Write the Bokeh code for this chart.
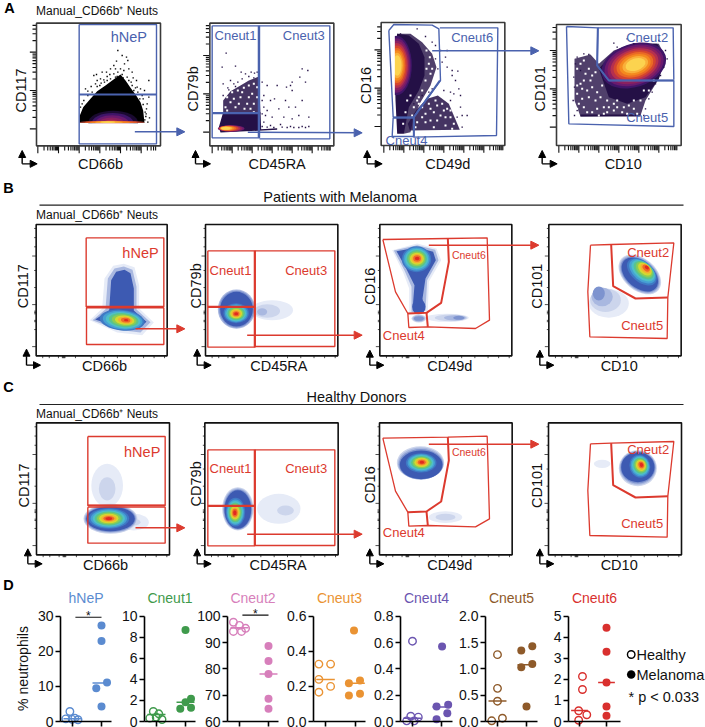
from bokeh.plotting import figure
from bokeh.layouts import row, column
from bokeh.models import (Range1d, Arrow, NormalHead, ColumnDataSource, LinearAxis, FixedTicker,
                          NumeralTickFormatter)
from bokeh.embed import file_html
from bokeh.resources import INLINE
from bokeh.core.properties import value
import math

FONT = "Liberation Sans"
BLUE = "#4a62ae"
RED = "#dc3a2e"

# ---------- panel D data ----------
SUBSETS = ["hNeP", "Cneut1", "Cneut2", "Cneut3", "Cneut4", "Cneut5", "Cneut6"]
SUBSET_COLORS = ["#5b8bd0", "#3f9a4c", "#d77fbb", "#ea9333", "#6b55b0", "#8e5a2a", "#d9302e"]
Y_MIN = [0, 0, 60, 0, 0, 0, 0]
Y_MAX = [30, 10, 100, 0.6, 0.8, 2.0, 5]
Y_TICKS = [[0, 10, 20, 30], [0, 2, 4, 6, 8, 10], [60, 70, 80, 90, 100], [0, .2, .4, .6],
           [0, .2, .4, .6, .8], [0, .5, 1, 1.5, 2], [0, 1, 2, 3, 4, 5]]
Y_FORMAT = ["0", "0", "0", "0.0", "0.0", "0.0", "0"]
HEALTHY_X = [[-.09, -.23, .08, -.01, .19], [-.11, .08, -.23, -.01, .19], [-.21, 0, .21, -.21, .07],
             [-.22, .17, -.22, .17, -.22], [0, -.06, .2, -.2, .06], [0, 0, 0, .17, -.2], [.11, .11, -.03, .27, -.03]]
HEALTHY = [[2.85, .76, .95, .6, .5], [.95, .73, .32, .41, .19], [97.7, 96.5, 95.4, 94.2, 94.2],
           [.327, .327, .24, .2, .167], [.61, .04, .033, .005, .005], [1.27, .63, .386, .063, .013],
           [2.14, 1.52, .51, .32, .06]]
MELANOMA_X = [[1, 1, 1.19, .82, 1], [1, 1.19, 1, .82, 1.19], [1, 1, 1, 1, 1], [.95, .78, 1.15, 1.15, .78],
              [1.02, .83, 1.23, 1.2, .83], [1.2, .82, 1.2, .82, 1], [1, 1, 1, 1, 1]]
MELANOMA = [[27.35, 22.9, 11.1, 9.5, 4.3], [8.7, 2.15, 1.83, 1.2, 1.3], [88.7, 83, 78, 68.6, 64.8],
            [.518, .218, .233, .158, .148], [.57, .114, .127, .063, .018], [1.43, 1.35, 1.09, 1.03, .285],
            [4.45, 3.31, 1.85, .71, .27]]
HEALTHY_MED = [.8, .66, 95.6, .24, .025, .39, .52]
MELANOMA_MED = [11, 1.83, 78, .218, .11, 1.08, 1.85]
SIG_LEVEL = {0: 29.7, 2: 100.4}

# layout of panel D in page pixels
SLOTS = [0, 118, 197, 282, 370, 455, 545, 705]
AXIS_X = [60, 144, 227, 313, 400, 485, 568]
TICK0 = [72, 156, 239, 325, 412, 497, 579]
TICK1 = [101, 185, 268, 355, 441, 526, 606]
AXIS_END = [111, 195, 278, 365, 452, 537, 620]
TOP_H = 576
PAGE_H = 727
PX_MAX, PX_ZERO = 615.7, 721.0

# ---------- flow panels (coordinates, 3x-crop units) ----------
ORIGIN = {"a": (0, 0), "b": (350, 0), "c": (0, 178), "d": (350, 178), "e": (0, 375), "f": (350, 375)}

FRAMES = [("a", 108, 68, 480, 436), ("a", 628, 68, 1000, 436), ("b", 92, 66, 463, 435), ("b", 618, 72, 992, 435),
          ("c", 107, 138, 500, 532), ("c", 615, 138, 1012, 532), ("d", 88, 138, 484, 532), ("d", 595, 138, 992, 532),
          ("e", 108, 142, 507, 538), ("e", 613, 142, 1013, 538), ("f", 87, 142, 485, 538), ("f", 594, 142, 993, 538)]
AXIS_TEXT = [("a", "CD117", 60, 270, 1), ("a", "CD66b", 300, 490, 0), ("a", "CD79b", 578, 265, 1), ("a", "CD45RA", 830, 490, 0),
             ("b", "CD16", 45, 255, 1), ("b", "CD49d", 292, 490, 0), ("b", "CD101", 568, 265, 1), ("b", "CD10", 818, 490, 0),
             ("c", "CD117", 68, 323, 1), ("c", "CD66b", 312, 563, 0), ("c", "CD79b", 585, 322, 1), ("c", "CD45RA", 835, 563, 0),
             ("d", "CD16", 57, 323, 1), ("d", "CD49d", 298, 563, 0), ("d", "CD101", 560, 323, 1), ("d", "CD10", 806, 563, 0),
             ("e", "CD117", 70, 330, 1), ("e", "CD66b", 315, 567, 0), ("e", "CD79b", 585, 325, 1), ("e", "CD45RA", 833, 567, 0),
             ("f", "CD16", 57, 328, 1), ("f", "CD49d", 298, 567, 0), ("f", "CD101", 560, 330, 1), ("f", "CD10", 806, 567, 0)]
GATE_TEXT = [("a", "hNeP", 385, 108, 14.5, BLUE), ("a", "Cneut1", 705, 105, 13, BLUE), ("a", "Cneut3", 910, 105, 13, BLUE),
             ("b", "Cneut6", 365, 112, 13, BLUE), ("b", "Cneut4", 168, 420, 13, BLUE), ("b", "Cneut2", 890, 112, 13, BLUE),
             ("b", "Cneut5", 890, 352, 13, BLUE),
             ("c", "hNeP", 420, 222, 14.5, RED), ("c", "Cneut1", 690, 275, 13, RED), ("c", "Cneut3", 917, 275, 13, RED),
             ("d", "Cneut6", 355, 228, 10.5, RED), ("d", "Cneut4", 160, 472, 13, RED), ("d", "Cneut2", 893, 222, 13, RED),
             ("d", "Cneut5", 875, 442, 13, RED),
             ("e", "hNeP", 425, 228, 14.5, RED), ("e", "Cneut1", 690, 278, 13, RED), ("e", "Cneut3", 917, 278, 13, RED),
             ("f", "Cneut6", 355, 230, 10.5, RED), ("f", "Cneut4", 160, 472, 13, RED), ("f", "Cneut2", 893, 222, 13, RED),
             ("f", "Cneut5", 875, 444, 13, RED)]

GATES = [
    ("a", [(236, 72), (468, 72), (468, 430), (236, 430), (236, 72)], 1.4, BLUE), ("a", [(236, 282), (468, 282)], 2.2, BLUE),
    ("a", [(635, 76), (777, 76), (777, 412), (635, 412), (635, 76)], 1.4, BLUE), ("a", [(777, 76), (988, 76), (988, 415), (777, 415)], 1.4, BLUE),
    ("a", [(775, 76), (775, 412)], 2.2, BLUE), ("a", [(636, 338), (777, 338)], 2.2, BLUE),
    ("b", [(115, 90), (130, 72), (245, 74), (265, 85), (270, 240), (190, 350), (128, 350), (115, 90)], 1.4, BLUE),
    ("b", [(268, 82), (442, 82), (438, 405), (190, 410), (190, 350)], 1.4, BLUE), ("b", [(128, 352), (125, 408), (190, 408)], 1.4, BLUE),
    ("b", [(268, 240), (190, 350), (190, 408)], 2.0, BLUE), ("b", [(128, 352), (190, 352)], 2.0, BLUE),
    ("b", [(648, 78), (742, 82), (740, 195), (775, 240), (970, 240), (970, 378), (655, 370), (648, 78)], 1.4, BLUE),
    ("b", [(742, 82), (968, 82), (970, 238)], 1.4, BLUE), ("b", [(742, 82), (740, 195), (775, 240), (970, 240)], 2.0, BLUE),
    ("c", [(257, 178), (490, 178), (490, 385), (257, 385), (257, 178)], 1.4, RED), ("c", [(257, 385), (490, 385)], 2.2, RED),
    ("c", [(258, 388), (490, 388), (490, 498), (258, 498), (258, 388)], 1.4, RED),
    ("c", [(622, 217), (763, 217), (763, 506), (622, 506), (622, 217)], 1.4, RED), ("c", [(763, 217), (1003, 217), (1003, 504), (763, 504)], 1.4, RED),
    ("c", [(763, 217), (763, 506)], 2.2, RED), ("c", [(622, 385), (763, 385)], 2.2, RED),
    ("d", [(97, 183), (292, 180), (410, 178), (417, 425), (375, 450), (232, 445), (175, 447), (172, 405), (135, 340), (97, 183)], 1.3, RED),
    ("d", [(292, 180), (295, 250), (272, 373), (228, 403), (172, 405)], 2.0, RED), ("d", [(228, 403), (232, 445)], 2.0, RED),
    ("d", [(720, 200), (782, 198), (970, 193), (952, 357), (950, 480), (718, 475), (712, 340), (720, 200)], 1.3, RED),
    ("d", [(782, 198), (788, 323), (855, 360), (952, 357)], 2.0, RED),
    ("e", [(262, 183), (494, 183), (494, 390), (262, 390), (262, 183)], 1.4, RED), ("e", [(262, 390), (494, 390)], 2.2, RED),
    ("e", [(262, 395), (494, 395), (494, 503), (262, 503), (262, 395)], 1.4, RED),
    ("e", [(622, 223), (763, 223), (763, 511), (622, 511), (622, 223)], 1.4, RED), ("e", [(763, 223), (1003, 223), (1003, 510), (763, 510)], 1.4, RED),
    ("e", [(763, 223), (763, 511)], 2.2, RED), ("e", [(622, 391), (763, 391)], 2.2, RED),
    ("f", [(97, 188), (292, 185), (410, 182), (417, 430), (375, 454), (232, 450), (175, 452), (172, 410), (135, 347), (97, 188)], 1.3, RED),
    ("f", [(292, 185), (295, 255), (272, 378), (228, 408), (172, 410)], 2.0, RED), ("f", [(228, 408), (232, 450)], 2.0, RED),
    ("f", [(720, 205), (782, 203), (970, 198), (952, 362), (950, 485), (718, 480), (712, 345), (720, 205)], 1.3, RED),
    ("f", [(782, 203), (788, 329), (855, 366), (952, 362)], 2.0, RED),
]
ARROWS = [("a", 403, 394, "a", 553, 394, BLUE), ("a", 742, 395, "b", 35, 397, BLUE), ("b", 245, 151, "b", 565, 151, BLUE),
          ("c", 405, 451, "c", 553, 451, RED), ("c", 740, 470, "d", 35, 470, RED), ("d", 235, 200, "d", 565, 200, RED),
          ("e", 405, 457, "e", 553, 457, RED), ("e", 740, 476, "f", 35, 476, RED), ("f", 235, 206, "f", 565, 206, RED)]
CORNERS = [("a", 65, 490, 450, 110), ("a", 585, 490, 450, 630), ("b", 50, 490, 450, 95), ("b", 575, 490, 450, 620),
           ("c", 78, 560, 512, 120), ("c", 590, 560, 512, 632), ("d", 58, 560, 515, 100), ("d", 568, 560, 515, 610),
           ("e", 82, 565, 520, 125), ("e", 590, 565, 520, 632), ("f", 58, 565, 520, 100), ("f", 568, 565, 520, 610)]

DARK = "#241046"
JET = ["#3d5ab2", "#3f79c4", "#46a0d4", "#4fbfc8", "#5ac48c", "#8ccc55", "#d4d830", "#f4b030", "#ee6a28", "#e02a20"]
PALE = ["#e6ebf7", "#ccd5ec", "#a9b8e0", "#7d93cf"]
HOT = ["#3f1568", "#6a1a6e", "#8a2060", "#b5304f", "#d4452f", "#ea6a25", "#f48a1f", "#f9b03a", "#fcd34f"]

# masses: origin, colour, opacity, outline
POLYS = [
    ("a", "#000000", 1, [(238, 345), (248, 320), (270, 295), (290, 272), (315, 255), (335, 240), (360, 222), (375, 240), (390, 262), (405, 282), (420, 305), (428, 330), (432, 367), (238, 367)]),
    ("a", DARK, .85, [(668, 300), (690, 272), (720, 255), (745, 240), (775, 228), (780, 340), (668, 340)]),
    ("a", DARK, 1, [(668, 335), (780, 335), (782, 386), (830, 383), (830, 388), (660, 396), (655, 380)]),
    ("b", DARK, .8, [(140, 100), (180, 100), (215, 125), (245, 160), (258, 200), (240, 255), (210, 305), (190, 350), (180, 395), (160, 400)]),
    ("b", DARK, 1, [(140, 100), (175, 105), (205, 130), (222, 170), (222, 225), (205, 270), (175, 320), (160, 400), (140, 400), (135, 300), (132, 200)]),
    ("b", DARK, .85, [(200, 325), (230, 295), (262, 285), (295, 310), (312, 350), (328, 388), (178, 390), (172, 370)]),
    ("b", DARK, .8, [(672, 175), (720, 162), (745, 190), (790, 150), (850, 128), (925, 130), (945, 170), (925, 235), (885, 300), (870, 345), (690, 348), (672, 300)]),
    ("b", DARK, 1, [(745, 205), (790, 155), (850, 130), (920, 130), (945, 170), (925, 235), (885, 290), (830, 310), (775, 290)]),
    ("b", DARK, 1, [(690, 342), (870, 342), (870, 348), (690, 348)]),
    ("c", "#e6ebf7", 1, [(268, 425), (305, 390), (312, 300), (338, 262), (370, 256), (402, 266), (416, 320), (416, 390), (460, 432), (425, 470), (350, 462)]),
    ("c", "#a9b8e0", 1, [(276, 425), (315, 392), (322, 300), (342, 270), (370, 264), (396, 274), (408, 325), (408, 393), (450, 431), (420, 462), (352, 454)]),
    ("c", "#3d5ab2", 1, [(284, 423), (326, 395), (332, 305), (347, 280), (372, 274), (390, 284), (400, 330), (400, 396), (438, 430), (412, 452), (355, 446)]),
    ("d", "#e6ebf7", 1, [(125, 215), (200, 195), (258, 210), (272, 245), (235, 310), (232, 398), (176, 404), (176, 330), (158, 282)]),
    ("d", "#a9b8e0", 1, [(130, 216), (200, 200), (254, 214), (264, 245), (230, 305), (225, 396), (183, 401), (183, 325), (162, 276)]),
    ("d", "#3d5ab2", 1, [(138, 218), (200, 207), (248, 220), (256, 245), (225, 300), (216, 360), (222, 394), (190, 397), (188, 370), (192, 320), (167, 270)]),
]
# density clouds: origin, outer (cx, cy, w, h), inner (cx, cy, w, h), tilt in degrees, palette (outer to inner)
CLOUDS = [
    ("a", (338, 367, 150, 72), (332, 367, 50, 18), 0, ["#1a0a30", "#3f1568", "#6a1a6e", "#8a2060", "#b5304f"]),
    ("a", (335, 365, 195, 7), (322, 365, 45, 5), 0, HOT[4:]),
    ("a", (692, 384, 80, 20), (676, 383, 28, 9), 0, HOT[1:]),
    ("b", (138, 195, 92, 178), (140, 195, 26, 62), 0, HOT),
    ("b", (850, 195, 200, 130), (855, 192, 62, 36), 18, HOT),
    ("c", (365, 425, 135, 62), (377, 425, 13, 7), -6, JET[1:]),
    ("c", (815, 395, 125, 60), (785, 400, 30, 22), 0, PALE[:3]),
    ("c", (708, 392, 112, 118), (708, 392, 98, 104), 0, PALE[2:] + JET[:1]),
    ("c", (707, 404, 76, 60), (707, 406, 12, 9), 0, JET[1:]),
    ("d", (198, 242, 88, 78), (200, 240, 14, 11), 0, JET[1:]),
    ("d", (205, 385, 40, 45), (205, 385, 30, 35), 0, JET[:1]),
    ("d", (290, 418, 130, 24), (325, 418, 34, 12), 0, PALE),
    ("d", (205, 420, 44, 24), (205, 420, 30, 14), 0, PALE[1:]),
    ("d", (775, 375, 120, 85), (745, 345, 36, 42), 0, PALE),
    ("d", (868, 288, 146, 96), (868, 288, 126, 80), -40, PALE[1:] + JET[:1]),
    ("d", (874, 280, 104, 62), (889, 267, 14, 10), -40, JET[1:]),
    ("e", (320, 330, 95, 130), (320, 340, 50, 70), 0, PALE[:2]),
    ("e", (400, 440, 90, 50), (400, 440, 40, 20), 0, PALE[:2]),
    ("e", (330, 430, 162, 90), (330, 430, 146, 74), 0, PALE[1:] + JET[:1]),
    ("e", (325, 429, 122, 62), (325, 429, 20, 9), 0, JET[1:]),
    ("e", (835, 400, 130, 90), (855, 405, 50, 30), 0, PALE[:2]),
    ("e", (712, 400, 94, 130), (712, 402, 80, 115), 0, PALE[1:] + JET[:1]),
    ("e", (705, 410, 58, 86), (703, 412, 10, 15), 0, JET[1:]),
    ("f", (285, 425, 100, 35), (285, 425, 60, 20), 0, PALE[:2]),
    ("f", (210, 262, 142, 100), (212, 268, 128, 86), 0, PALE[1:] + JET[:1]),
    ("f", (212, 262, 92, 58), (214, 260, 14, 9), 0, JET[1:]),
    ("f", (755, 265, 50, 25), (755, 265, 30, 14), 0, PALE[:1]),
    ("f", (862, 278, 114, 108), (862, 275, 100, 90), 0, PALE[1:] + JET[:1]),
    ("f", (868, 272, 62, 70), (873, 268, 10, 13), 20, JET[1:]),
]
# white masks below the flat lower limit of the row A plots
MASKS = [("a", 238, 368, 466, 429), ("b", 94, 92, 133, 345)]

SPECKLE_BLACK = [(352, 150), (378, 170), (382, 180), (365, 165), (340, 195), (348, 182), (372, 190), (360, 205), (385, 205), (395, 215), (330, 205), (318, 215),
                 (305, 215), (288, 222), (280, 225), (300, 235), (320, 228), (340, 220), (365, 222), (380, 230), (398, 232), (408, 240), (392, 245), (445, 240),
                 (410, 260), (420, 265), (432, 270), (255, 265), (272, 258), (262, 272), (285, 250), (298, 255), (312, 245), (330, 235), (378, 250), (400, 270),
                 (445, 290), (440, 310), (428, 295), (437, 340), (447, 352), (433, 358), (420, 345), (415, 330), (240, 320), (250, 300), (262, 285), (290, 240),
                 (352, 215), (345, 205), (370, 210), (405, 262), (425, 285), (438, 325), (442, 365), (436, 348), (345, 230), (328, 222), (310, 238), (290, 258),
                 (275, 275), (245, 310), (350, 228), (368, 232), (385, 240), (395, 255), (412, 275), (418, 295), (428, 312), (434, 335), (425, 355), (302, 248), (320, 240)]
SPECKLE_A2 = [(677, 158), (705, 197), (665, 200), (722, 215), (752, 215), (762, 218), (905, 205), (922, 210), (898, 230), (915, 245), (875, 245), (870, 255), (875, 270),
              (785, 245), (800, 255), (830, 255), (858, 260), (790, 285), (810, 300), (822, 295), (855, 300), (865, 320), (885, 320), (905, 300), (790, 320), (795, 345), (815, 350),
              (835, 325), (850, 350), (875, 355), (895, 345), (925, 350), (790, 365), (810, 375), (840, 372), (870, 378), (905, 378), (925, 378), (785, 378), (800, 380), (820, 381),
              (845, 380), (860, 381), (880, 381), (895, 381), (915, 381), (668, 250), (682, 262), (700, 250), (725, 235), (745, 228), (760, 232), (690, 240), (712, 245), (735, 220),
              (770, 215), (668, 285), (685, 268), (705, 258), (785, 300), (785, 340), (800, 330)]
SPECKLE_A3 = [(255, 135), (270, 150), (285, 170), (290, 150), (275, 185), (290, 200), (305, 210), (322, 212), (305, 225), (315, 240), (325, 265), (350, 345), (335, 345),
              (330, 285), (310, 280), (200, 85), (150, 100), (225, 108), (245, 125), (255, 175), (262, 205), (245, 265), (300, 300), (330, 320), (320, 350), (335, 380),
              (190, 310), (215, 285), (235, 275), (280, 270), (300, 275)]
SPECKLE_A4 = [(680, 170), (675, 190), (700, 160), (715, 162), (690, 210), (670, 230), (672, 260), (668, 300), (680, 330), (672, 345), (790, 128), (800, 140), (830, 115),
              (850, 130), (925, 120), (945, 150), (950, 175), (940, 200), (930, 225), (915, 250), (905, 275), (895, 295), (885, 325), (880, 345)]
WHITE_HOLES = [(680, 290), (695, 275), (690, 305), (712, 270), (730, 262), (720, 290), (745, 255), (755, 280), (740, 310), (705, 320), (760, 310), (770, 260),
               (675, 320), (732, 325), (760, 335), (700, 295), (715, 310), (725, 275), (745, 290), (760, 250), (680, 330), (770, 290), (750, 325)]
WHITE_HOLES_B = [(215, 320), (235, 310), (255, 300), (275, 310), (290, 325), (300, 350), (225, 340), (250, 335), (270, 345), (205, 290), (190, 320), (170, 300),
                 (185, 345), (225, 365), (310, 370), (285, 375), (180, 285), (165, 335), (158, 370), (240, 360), (225, 240), (240, 220), (235, 190), (215, 270), (200, 300),
                 (228, 150), (238, 170), (228, 205), (245, 205), (205, 310), (260, 315), (240, 325), (280, 330), (300, 330), (260, 360), (200, 365), (215, 350), (285, 350),
                 (305, 385), (250, 380), (195, 380)]
WHITE_HOLES_D = [(690, 190), (705, 220), (690, 250), (680, 280), (710, 270), (735, 300), (700, 320), (725, 335), (760, 320), (790, 330), (820, 320), (850, 325),
                 (850, 300), (880, 270), (770, 300), (685, 310), (745, 345), (800, 300), (720, 240), (740, 275), (770, 335), (830, 340), (700, 180), (680, 205), (715, 205),
                 (725, 225), (700, 240), (680, 255), (695, 265), (725, 260), (755, 255), (750, 290), (715, 290), (695, 295), (680, 325), (710, 335), (740, 325), (775, 320),
                 (800, 320), (835, 315), (860, 340), (815, 335), (790, 310), (870, 300), (895, 270), (910, 240), (735, 215), (760, 340)]

TICK_FRACS = [.30, .48, .60, .70, .78, .85, .90, .95]
A_TICKS = [("a", 112, 62, 436, 385, 115, 108, 468), ("a", 635, 60, 436, 395, 115, 628, 990), ("b", 100, 60, 435, 378, 115, 92, 458), ("b", 625, 60, 435, 380, 115, 618, 982)]
SPARSE_X = [.05, .1, .17, .2, .205, .21, .215, .22, .3, .42, .52, .62, .72, .82, .9, .98]
SPARSE_Y = [.03, .1, .17, .24, .35, .48, .61, .66, .67, .68, .73, .74, .8, .93]
SPARSE_MAJOR_Y = [.61, .24, .93]

LETTERS = [("A", 9, 7), ("B", 8, 187), ("C", 8, 386)]
HEAD = "Manual_CD66b\u207a Neuts"
HEADERS = [(96.5, 10.7), (96.5, 214.7), (96.5, 413.7)]
RULES = [("Patients with Melanoma", 339.7, 196, 204.7), ("Healthy Donors", 356, 396.7, 404)]
LEGEND_LABELS = ["Healthy", "Melanoma"]

# ---------- top figure ----------
top = figure(width=705, height=TOP_H, x_range=Range1d(0, 705), y_range=Range1d(TOP_H, 0), x_axis_type=None, y_axis_type=None,
             output_backend="svg", toolbar_location=None, min_border=0, outline_line_color=None)
top.grid.visible = False


def zx(o, x):
    return ORIGIN[o][0] + x / 3


def zy(o, y):
    return ORIGIN[o][1] + y / 3


def txt(x, y, s, size, color="#111111", angle=0.0, weight="normal", align="center"):
    top.text([x], [y], text=[s], text_font=value(FONT), text_font_size=f"{size}px", text_color=color, angle=angle,
             text_align=align, text_baseline="middle", text_font_style=weight)


def draw_cloud(o, outer, inner, tilt, pal):
    n = len(pal)
    for j, c in enumerate(pal):
        f = j / (n - 1) if n > 1 else 0
        cx, cy, w, h = [a + (b - a) * f for a, b in zip(outer, inner)]
        top.ellipse([zx(o, cx)], [zy(o, cy)], width=w / 3, height=h / 3, angle=math.radians(tilt), fill_color=c, line_color=None)


for o, c, alpha, pts in POLYS:
    top.patch([zx(o, a) for a, b in pts], [zy(o, b) for a, b in pts], fill_color=c, fill_alpha=alpha, line_color=None)
for o, outer, inner, tilt, pal in CLOUDS:
    draw_cloud(o, outer, inner, tilt, pal)
for o, a, b, c, d in MASKS:
    top.quad(left=[zx(o, a)], right=[zx(o, c)], top=[zy(o, b)], bottom=[zy(o, d)], fill_color="white", line_color=None)
for pts, o, c, sz in [(SPECKLE_BLACK, "a", "#000000", 1.4), (SPECKLE_A2, "a", DARK, 1.4), (SPECKLE_A3, "b", DARK, 1.4), (SPECKLE_A4, "b", DARK, 1.4),
                      (WHITE_HOLES, "a", "white", 2), (WHITE_HOLES_B, "b", "white", 2), (WHITE_HOLES_D, "b", "white", 2)]:
    top.scatter([zx(o, a) for a, b in pts], [zy(o, b) for a, b in pts], marker="square", size=sz, fill_color=c, line_color=None)

# ticks
xs, ys = [], []
for o, xs0, xstep, bottom, ys0, ystep, left, x_end in A_TICKS:
    k = 0
    while xs0 + k * xstep < x_end:
        pos = xs0 + k * xstep
        xs.append([zx(o, pos)] * 2)
        ys.append([zy(o, bottom), zy(o, bottom + 22)])
        for f in TICK_FRACS:
            if pos + f * xstep < x_end:
                xs.append([zx(o, pos + f * xstep)] * 2)
                ys.append([zy(o, bottom), zy(o, bottom + 14)])
        k += 1
    k = 0
    while ys0 - k * ystep > 72:
        pos = ys0 - k * ystep
        xs.append([zx(o, left), zx(o, left - 20)])
        ys.append([zy(o, pos)] * 2)
        for f in TICK_FRACS:
            if pos - f * ystep > 72:
                xs.append([zx(o, left), zx(o, left - 12)])
                ys.append([zy(o, pos - f * ystep)] * 2)
        k += 1
top.multi_line(xs, ys, line_color="#111111", line_width=1.1)
xs, ys = [], []
for o, x0, y0, x1, y1 in FRAMES[4:]:
    for f in SPARSE_X:
        xs.append([zx(o, x0 + f * (x1 - x0))] * 2)
        ys.append([zy(o, y1), zy(o, y1 + 7)])
    for f in SPARSE_Y:
        ln = 12 if f in SPARSE_MAJOR_Y else 6
        xs.append([zx(o, x0), zx(o, x0 - ln)])
        ys.append([zy(o, y0 + f * (y1 - y0))] * 2)
top.multi_line(xs, ys, line_color="#222222", line_width=0.8)

for o, pts, lw, c in GATES:
    top.line([zx(o, a) for a, b in pts], [zy(o, b) for a, b in pts], line_color=c, line_width=lw)
for i, (o, x0, y0, x1, y1) in enumerate(FRAMES):
    top.quad(left=[zx(o, x0)], right=[zx(o, x1)], top=[zy(o, y0)], bottom=[zy(o, y1)], fill_color=None,
             line_color="#3a3a3a" if i < 4 else "#111111", line_width=1.6)

for c in (BLUE, RED):
    sel = [a for a in ARROWS if a[6] == c]
    src = ColumnDataSource(dict(x0=[zx(a[0], a[1]) for a in sel], y0=[zy(a[0], a[2]) for a in sel],
                                x1=[zx(a[3], a[4]) for a in sel], y1=[zy(a[3], a[5]) for a in sel]))
    top.add_layout(Arrow(end=NormalHead(size=8, fill_color=c, line_color=c), x_start="x0", y_start="y0", x_end="x1", y_end="y1",
                         source=src, line_color=c, line_width=1.5))
vx0, vy0, vy1, hx1 = [], [], [], []
for o, x, y, ytop, xr in CORNERS:
    vx0.append(zx(o, x)); vy0.append(zy(o, y)); vy1.append(zy(o, ytop)); hx1.append(zx(o, xr))
head = NormalHead(size=7, fill_color="black", line_color="black")
top.add_layout(Arrow(end=head, x_start="x", y_start="y", x_end="x", y_end="e", source=ColumnDataSource(dict(x=vx0, y=vy0, e=vy1)), line_color="black", line_width=1.4))
head2 = NormalHead(size=7, fill_color="black", line_color="black")
top.add_layout(Arrow(end=head2, x_start="x", y_start="y", x_end="e", y_end="y", source=ColumnDataSource(dict(x=vx0, y=vy0, e=hx1)), line_color="black", line_width=1.4))

for o, s, x, y, rot in AXIS_TEXT:
    txt(zx(o, x), zy(o, y), s, 14.5, angle=math.pi / 2 if rot else 0.0)
for o, s, x, y, size, c in GATE_TEXT:
    txt(zx(o, x), zy(o, y), s, size, color=c)
for s, x, y in LETTERS:
    txt(x, y, s, 14.5, color="black", weight="bold")
for x, y in HEADERS:
    txt(x, y, HEAD, 12)
for s, x, y, ly in RULES:
    txt(x, y, s, 14.5)
    top.line([39, 683], [ly, ly], line_color="#222222", line_width=1.2)

# ---------- panel D figures ----------
figs = []
for i, name in enumerate(SUBSETS):
    color = SUBSET_COLORS[i]
    left, right = SLOTS[i], SLOTS[i + 1]
    t0, t1 = TICK0[i], TICK1[i]
    to_x = lambda px: (px - t0) / (t1 - t0)
    k = (Y_MAX[i] - Y_MIN[i]) / (PX_ZERO - PX_MAX)
    to_y = lambda px: Y_MIN[i] + (PX_ZERO - px) * k
    p = figure(width=right - left, height=PAGE_H - TOP_H, x_range=Range1d(to_x(left), to_x(right)),
               y_range=Range1d(to_y(PAGE_H), to_y(TOP_H)), x_axis_type=None, y_axis_type=None,
               output_backend="svg", toolbar_location=None, min_border=0, outline_line_color=None)
    p.grid.visible = False
    y_ax = LinearAxis(fixed_location=to_x(AXIS_X[i]), ticker=FixedTicker(ticks=Y_TICKS[i]), bounds=(Y_MIN[i], Y_MAX[i]),
                      formatter=NumeralTickFormatter(format=Y_FORMAT[i]), major_label_text_font=FONT,
                      major_label_text_font_size="14px", major_label_text_color="#111111", major_tick_in=0, major_tick_out=5,
                      minor_tick_line_color=None, axis_line_width=1.6, major_tick_line_width=1.6, major_label_standoff=2)
    p.add_layout(y_ax, "left")
    x_ax = LinearAxis(fixed_location=Y_MIN[i], ticker=FixedTicker(ticks=[0, 1]), bounds=(to_x(AXIS_X[i]), to_x(AXIS_END[i])),
                      major_label_overrides={0: "", 1: ""}, major_tick_in=0, major_tick_out=5, minor_tick_line_color=None,
                      axis_line_width=1.6, major_tick_line_width=1.6)
    p.add_layout(x_ax, "below")
    p.segment([-.31, .69], [HEALTHY_MED[i], MELANOMA_MED[i]], [.31, 1.31], [HEALTHY_MED[i], MELANOMA_MED[i]], line_color=color, line_width=1.5)
    p.scatter(HEALTHY_X[i], HEALTHY[i], marker="circle", size=7.5, fill_color=None, line_color=color, line_width=1.4)
    p.scatter(MELANOMA_X[i], MELANOMA[i], marker="circle", size=8, fill_color=color, line_color=None)
    p.text([to_x((AXIS_X[i] + AXIS_END[i]) / 2)], [to_y(597)], text=[name], text_font=value(FONT), text_font_size="14px",
           text_color=color, text_align="center", text_baseline="middle")
    if i in SIG_LEVEL:
        p.line([.1, 1], [SIG_LEVEL[i]] * 2, line_color="#111111", line_width=1.2)
        p.text([.55], [to_y(PX_ZERO - (PX_ZERO - PX_MAX) * (SIG_LEVEL[i] - Y_MIN[i]) / (Y_MAX[i] - Y_MIN[i]) - 1)], text=["*"], text_font=value(FONT),
               text_font_size="12px", text_color="#111111", text_align="center", text_baseline="middle")
    if i == 0:
        p.text([to_x(22)], [to_y(668)], text=["% neutrophils"], text_font=value(FONT), text_font_size="14px", angle=math.pi / 2,
               text_color="#111111", text_align="center", text_baseline="middle")
        p.text([to_x(8)], [to_y(584)], text=["D"], text_font=value(FONT), text_font_size="14.5px", text_font_style="bold",
               text_color="black", text_align="center", text_baseline="middle")
    if i == 6:
        p.text([to_x(628)], [to_y(696.7)], text=["* p < 0.033"], text_font=value(FONT), text_font_size="14.5px",
               text_color="#111111", text_align="left", text_baseline="middle")
        p.scatter([to_x(630.7)], [to_y(654)], marker="circle", size=7.5, fill_color=None, line_color="black", line_width=1.4)
        p.scatter([to_x(630.7)], [to_y(674)], marker="circle", size=8.5, fill_color="black", line_color=None)
        p.text([to_x(636)] * 2, [to_y(654), to_y(674)], text=LEGEND_LABELS, text_font=value(FONT), text_font_size="14.5px",
               text_color="#111111", text_align="left", text_baseline="middle")
    figs.append(p)

page = column(top, row(*figs, spacing=0), spacing=0)
open("out.html", "w").write(file_html(page, INLINE))
